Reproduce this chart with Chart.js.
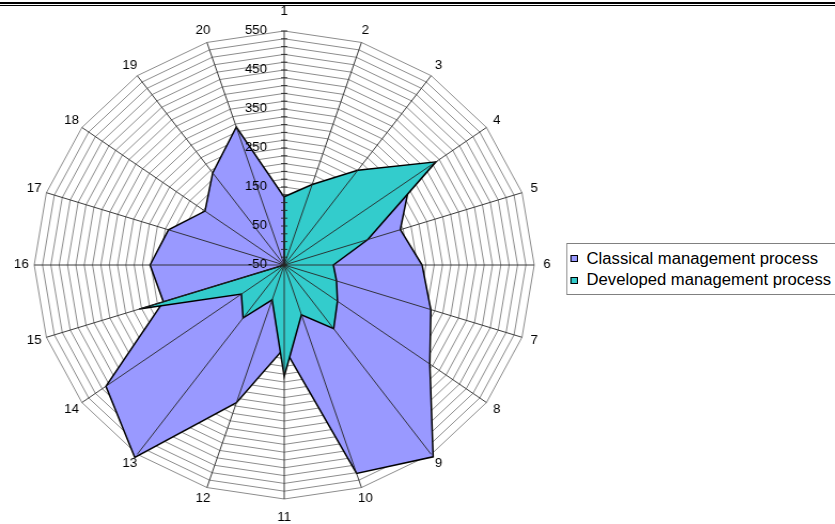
<!DOCTYPE html>
<html>
<head>
<meta charset="utf-8">
<title>Management process radar</title>
<script src="https://cdn.jsdelivr.net/npm/chart.js@4.4.0/dist/chart.umd.min.js"></script>
<style>
    html, body { margin: 0; padding: 0; background: #fff; }
    body {
        width: 835px; height: 524px; overflow: hidden; position: relative;
        font-family: "Liberation Sans", Arial, sans-serif;
    }
    .rule-thick { position: absolute; left: 0; top: 2px; width: 835px; height: 2px; background: #000; }
    .rule-thin { position: absolute; left: 0; top: 5px; width: 835px; height: 1px; background: #000; }
    /* the source picture is stretched a little wider than tall */
    #stage {
        position: absolute; left: 0; top: 0; width: 782px; height: 524px;
        transform: scaleX(1.0684); transform-origin: 0 0; overflow: hidden;
    }
    #radar { position: absolute; left: 0; top: 0; }
    #legend {
        position: absolute; left: 530px; top: 243px; width: 300px; height: 52px;
        border: 1px solid #808080; box-sizing: border-box; padding-top: 4px;
        background: #fff;
    }
    .legend-row { display: flex; align-items: center; height: 21.4px; white-space: nowrap; }
    .legend-mark {
        width: 7px; height: 7px; box-sizing: border-box; border: 1px solid #000;
        margin-left: 3px; margin-right: 8px; flex: none;
    }
    .legend-text { font-size: 15.6px; color: #000; }
</style>
</head>
<body>
<div class="rule-thick"></div>
<div class="rule-thin"></div>
<div id="stage">
    <canvas id="radar" width="532" height="524"></canvas>
    <div id="legend"></div>
</div>
<script>
// Spoke categories 1..20
const categories = ['1', '2', '3', '4', '5', '6', '7', '8', '9', '10',
                    '11', '12', '13', '14', '15', '16', '17', '18', '19', '20'];

// Values
const classicalValues = [124, 140, 210, 325, 243, 281, 320, 382, 558, 512,
                         163, 321, 560, 479, 255, 272, 242, 185, 242, 322];
const developedValues = [125, 167, 250, 400, 161, 68, 82, 108, 152, 84,
                         236, 44, 118, 77, 316, -50, -50, -50, -50, -50];

const seriesNames = ['Classical management process', 'Developed management process'];
const seriesColors = ['#9999ff', '#33cccc'];

// Value axis
const axisMin = -50;
const axisMax = 550;
const axisStep = 20;
const labelEvery = 100;

// Legend
document.getElementById('legend').innerHTML = seriesNames.map((name, i) => `
    <div class="legend-row">
        <span class="legend-mark" style="background:${seriesColors[i]}"></span>
        <span class="legend-text">${name}</span>
    </div>
`).join('');

// Spokes, tick labels and category labels sit on top of the filled areas
const overlayPlugin = {
    id: 'overlay',
    afterDatasetsDraw(chart) {
        const scale = chart.scales.r;
        const ctx = chart.ctx;
        const cx = scale.xCenter;
        const cy = scale.yCenter;
        const outer = scale.getDistanceFromCenterForValue(scale.max);

        ctx.save();
        ctx.strokeStyle = '#262626';
        ctx.lineWidth = 0.9;
        categories.forEach((c, i) => {
            const p = scale.getPointPosition(i, outer);
            ctx.beginPath();
            ctx.moveTo(cx, cy);
            ctx.lineTo(p.x, p.y);
            ctx.stroke();
        });

        // little tick marks along the first spoke
        scale.ticks.forEach(t => {
            const d = scale.getDistanceFromCenterForValue(t.value);
            ctx.beginPath();
            ctx.moveTo(cx - 3, cy - d);
            ctx.lineTo(cx + 3, cy - d);
            ctx.stroke();
        });

        ctx.fillStyle = '#000';
        ctx.font = '12.5px "Liberation Sans", Arial, sans-serif';
        ctx.textAlign = 'right';
        ctx.textBaseline = 'middle';
        scale.ticks.forEach(t => {
            const v = Math.round(t.value);
            if ((v - axisMin) % labelEvery !== 0) return;
            const d = scale.getDistanceFromCenterForValue(v);
            ctx.fillText(String(v), cx - 16, cy - d);
        });

        ctx.textAlign = 'center';
        categories.forEach((c, i) => {
            const a = scale.getIndexAngle(i);
            const vertical = Math.abs(Math.sin(a)) < 0.01;
            const p = scale.getPointPosition(i, outer + (vertical ? 19 : 12));
            ctx.fillText(c, p.x, p.y);
        });
        ctx.restore();
    }
};

const radarChart = new Chart(
    document.getElementById('radar'),
    {
        type: 'radar',
        data: {
            labels: categories,
            datasets: [
                {
                    label: seriesNames[0],
                    data: classicalValues,
                    backgroundColor: seriesColors[0],
                    borderColor: '#000',
                    borderWidth: 1.5,
                    pointRadius: 0,
                    fill: 'start',
                    clip: false,
                    order: 2
                },
                {
                    label: seriesNames[1],
                    data: developedValues,
                    backgroundColor: seriesColors[1],
                    borderColor: '#000',
                    borderWidth: 1.5,
                    pointRadius: 0,
                    fill: 'start',
                    clip: false,
                    order: 1
                }
            ]
        },
        options: {
            responsive: false,
            animation: false,
            layout: {
                padding: { left: 32, right: 32, top: 31, bottom: 25 }
            },
            scales: {
                r: {
                    min: axisMin,
                    max: axisMax,
                    ticks: { stepSize: axisStep, display: false },
                    grid: { color: '#8c8c8c', lineWidth: 1 },
                    angleLines: { display: false },
                    pointLabels: { display: false }
                }
            },
            plugins: {
                legend: { display: false },
                tooltip: { enabled: false }
            }
        },
        plugins: [overlayPlugin]
    }
);
</script>
</body>
</html>
